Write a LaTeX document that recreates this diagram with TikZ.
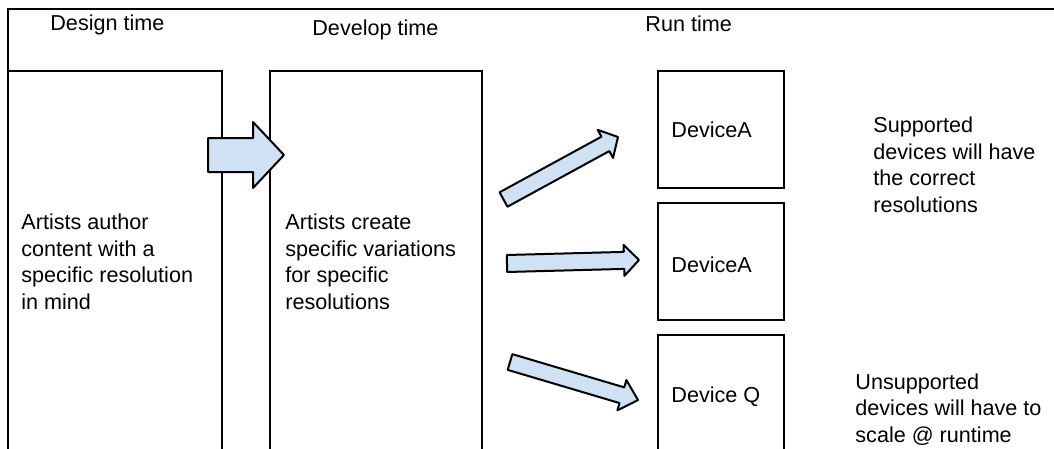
\documentclass[tikz,border=0pt]{standalone}
\usepackage{fontspec}
\setmainfont{Liberation Sans}
\usetikzlibrary{calc}

\definecolor{arrowblue}{RGB}{207,226,243}

% block arrow: from, to, half shaft width, half head width, head length
\newcommand{\blockarrow}[5]{%
    \path ($(#2)!#5!(#1)$) coordinate (#1-head);
    \draw[fatarrow] ($(#1)!#3!90:(#2)$) -- ($(#1-head)!#3!90:(#2)$)
        -- ($(#1-head)!#4!90:(#2)$) -- (#2) -- ($(#1-head)!#4!-90:(#2)$)
        -- ($(#1-head)!#3!-90:(#2)$) -- ($(#1)!#3!-90:(#2)$) -- cycle;
}

\begin{document}
\begin{tikzpicture}[
    x=0.5pt, y=-0.5pt,
    stage/.style={draw, line width=1pt, rectangle, outer sep=0pt, inner sep=0pt,
        anchor=north west, minimum height=199.5pt},
    device/.style={draw, line width=1pt, rectangle, outer sep=0pt, inner sep=0pt,
        anchor=north west, minimum width=63pt, minimum height=58.5pt},
    lbl/.style={font=\fontsize{10.8}{13.25}\selectfont, align=left, inner sep=0pt,
        anchor=base west},
    fatarrow/.style={draw, fill=arrowblue, line width=1pt, line join=round}
]
    \useasboundingbox (0,0) rectangle (1054,449);

    % outer frame, open to the right and below
    \draw[line width=1pt] (1070,9) -- (8,9) -- (8,470);

    % columns
    \node[stage, minimum width=107pt] (design) at (8,71) {};
    \node[stage, minimum width=106pt] (develop) at (270,71) {};
    \node[device] (devA) at (658,71) {};
    \node[device] (devB) at (658,203) {};
    \node[device, minimum height=67.5pt] (devQ) at (658,335) {};

    % headings
    \node[lbl] (designhd) at (50,31) {Design time};
    \node[lbl] (develophd) at (312,36) {Develop time};
    \node[lbl] (runhd) at (645,32) {Run time};

    % texts (base = last line)
    \node[lbl] (designtxt) at (21,309) {Artists author\\content with a\\specific resolution\\in mind};
    \node[lbl] (developtxt) at (285,309) {Artists create\\specific variations\\for specific\\resolutions};
    \node[lbl] (devAtxt) at (671,138) {DeviceA};
    \node[lbl] (devBtxt) at (671,272) {DeviceA};
    \node[lbl] (devQtxt) at (671,402) {Device Q};
    \node[lbl] (supported) at (873,212) {Supported\\devices will have\\the correct\\resolutions};
    \node[lbl] (unsupported) at (855,442) {Unsupported\\devices will have to\\scale @ runtime};

    % arrows
    \coordinate (a0) at (208,155);
    \coordinate (a0e) at (284,155);
    \coordinate (a1) at (503.5,199.5);
    \coordinate (a1e) at (618,137);
    \coordinate (a2) at (507,263.5);
    \coordinate (a2e) at (639,260);
    \coordinate (a3) at (510,362);
    \coordinate (a3e) at (638,400);
    \blockarrow{a0}{a0e}{8.5pt}{16.5pt}{15.5pt}
    \blockarrow{a1}{a1e}{4.1pt}{8pt}{7.2pt}
    \blockarrow{a2}{a2e}{4.25pt}{7.75pt}{7.5pt}
    \blockarrow{a3}{a3e}{4.1pt}{7.9pt}{8.4pt}
\end{tikzpicture}
\end{document}
